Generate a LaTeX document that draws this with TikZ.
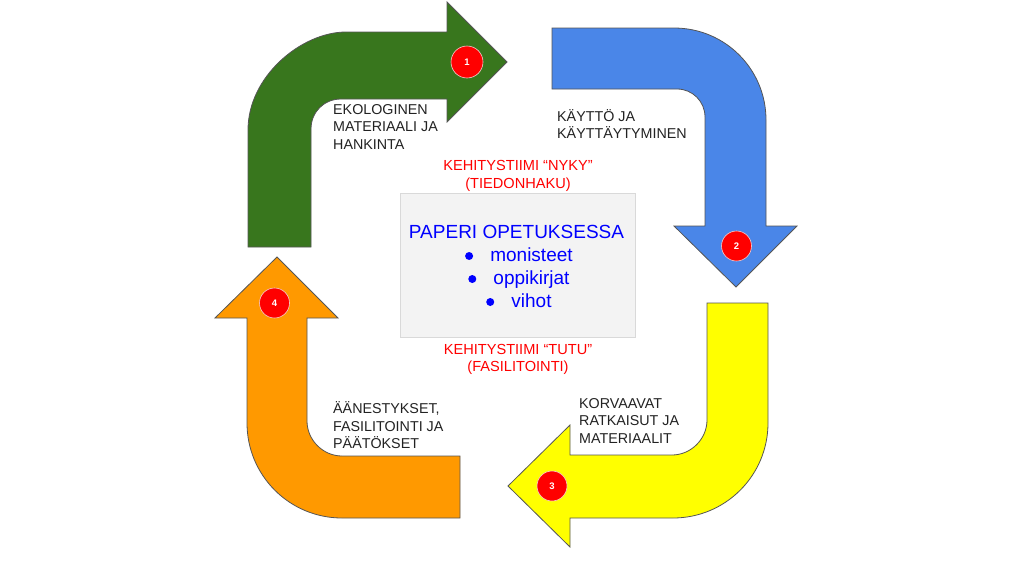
\documentclass[tikz,border=0pt]{standalone}
\usepackage{fontspec}
\setmainfont{Liberation Sans}
\definecolor{arrowline}{HTML}{555555}
\definecolor{greenA}{HTML}{38761D}
\definecolor{blueA}{HTML}{4A86E8}
\definecolor{yellowA}{HTML}{FFFF00}
\definecolor{orangeA}{HTML}{FF9900}
\definecolor{badgeline}{HTML}{F4CCCC}
\definecolor{labeltext}{HTML}{222222}
\definecolor{boxfill}{HTML}{F3F3F3}
\definecolor{boxline}{HTML}{D9D9D9}
\definecolor{teamred}{HTML}{FF0000}
\definecolor{itemblue}{HTML}{0000FF}
\begin{document}
\begin{tikzpicture}[x=1pt,y=-1pt,
  arrowshape/.style={draw=arrowline, line width=0.8pt, line join=miter},
  badge/.style={circle, fill=red, draw=badgeline, line width=0.6pt, minimum size=30pt, inner sep=0pt, text=white, font=\fontsize{9.5}{9.5}\selectfont\bfseries},
  lbl/.style={anchor=base west, inner sep=0pt, text=labeltext, font=\fontsize{14.3}{17}\selectfont},
  team/.style={anchor=base, inner sep=0pt, text=teamred, font=\fontsize{14.6}{17}\selectfont},
  item/.style={anchor=base, inner sep=0pt, text=itemblue, font=\fontsize{19}{23}\selectfont},
  dot/.style={circle, fill=itemblue, inner sep=0pt, minimum size=8pt}]
\useasboundingbox (0,0) rectangle (1024,576);
\fill[white] (0,0) rectangle (1024,576);

% Arrow 1 (green)
\filldraw[arrowshape, fill=greenA] (248,247) -- (248,130)
  .. controls (248,76) and (302,32) .. (346,32) -- (447,32) -- (447,2) -- (507,62)
  -- (447,122) -- (447,99) -- (341,99)
  .. controls (324,99) and (311,112) .. (311,129) -- (311,247) -- cycle;

% Arrow 2 (blue)
\filldraw[arrowshape, fill=blueA] (552,28) -- (674,28)
  .. controls (725,28) and (766,69) .. (766,120) -- (766,226) -- (797,226)
  -- (736,287) -- (674,226) -- (705,226) -- (705,117)
  .. controls (705,101.5) and (692.5,89) .. (677,89) -- (552,89) -- cycle;

% Arrow 3 (yellow)
\filldraw[arrowshape, fill=yellowA] (707,303) -- (768,303) -- (768,423)
  .. controls (768,475.5) and (725.5,518) .. (673,518) -- (570,518) -- (570,547)
  -- (508,486) -- (570,425) -- (570,455) -- (672,455)
  .. controls (691,455) and (707,439) .. (707,420) -- cycle;

% Arrow 4 (orange)
\filldraw[arrowshape, fill=orangeA] (460,456) -- (342,456)
  .. controls (323,456) and (307,440) .. (307,421) -- (307,318) -- (338,318)
  -- (277,257) -- (215,318) -- (247,318) -- (247,423)
  .. controls (247,475.5) and (289.5,518) .. (342,518) -- (460,518) -- cycle;

% Badges
\node[badge, minimum size=32pt] (b1) at (467,62) {1};
\node[badge] (b2) at (736.5,246) {2};
\node[badge] (b3) at (552,486) {3};
\node[badge] (b4) at (274.5,303) {4};

% Arrow labels
\node[lbl] (l1a) at (333,114) {EKOLOGINEN};
\node[lbl] (l1b) at (333,131.5) {MATERIAALI JA};
\node[lbl] (l1c) at (333,149) {HANKINTA};

\node[lbl] (l2a) at (557,121) {KÄYTTÖ JA};
\node[lbl] (l2b) at (557,138.5) {KÄYTTÄYTYMINEN};

\node[lbl] (l3a) at (579,408) {KORVAAVAT};
\node[lbl] (l3b) at (579,425.5) {RATKAISUT JA};
\node[lbl] (l3c) at (579,443) {MATERIAALIT};

\node[lbl] (l4a) at (333,413.5) {ÄÄNESTYKSET,};
\node[lbl] (l4b) at (333,431) {FASILITOINTI JA};
\node[lbl] (l4c) at (333,448) {PÄÄTÖKSET};

% Central box
\node[draw=boxline, fill=boxfill, line width=0.8pt, minimum width=235pt, minimum height=144pt, inner sep=0pt] (box) at (517.5,265) {};

\node[team] (t1a) at (518,170) {KEHITYSTIIMI “NYKY”};
\node[team] (t1b) at (518,188.3) {(TIEDONHAKU)};
\node[team] (t2a) at (518,354.3) {KEHITYSTIIMI “TUTU”};
\node[team] (t2b) at (518,371.3) {(FASILITOINTI)};

\node[item] (title) at (516.5,238.5) {PAPERI OPETUKSESSA};
\node[item] (i1) at (531.5,261.5) {monisteet};
\node[item] (i2) at (531.5,284.5) {oppikirjat};
\node[item] (i3) at (531.5,307.5) {vihot};
\node[dot] (d1) at ([xshift=-21pt,yshift=5.5pt]i1.base west) {};
\node[dot] (d2) at ([xshift=-21pt,yshift=5.5pt]i2.base west) {};
\node[dot] (d3) at ([xshift=-21pt,yshift=5.5pt]i3.base west) {};
\end{tikzpicture}
\end{document}
